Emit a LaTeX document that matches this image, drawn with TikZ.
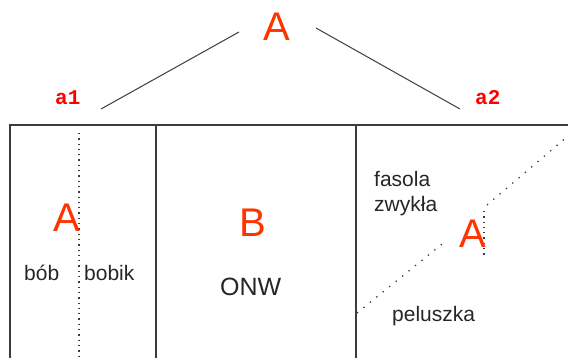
\documentclass[tikz,border=0pt]{standalone}
\usepackage{fontspec}
\setmainfont{Liberation Sans}
\newfontfamily\labfont{Liberation Mono}
\definecolor{bigred}{RGB}{255,51,0}
\definecolor{lblred}{RGB}{255,0,0}
\definecolor{linegray}{RGB}{60,60,60}
\begin{document}
\begin{tikzpicture}[x=1pt,y=-1pt,
  big/.style={anchor=base west,inner sep=0pt,text=bigred,font=\fontsize{40}{40}\selectfont},
  small/.style={anchor=base west,inner sep=0pt,text=black!85,font=\fontsize{21}{25}\selectfont},
  lbl/.style={anchor=base west,inner sep=0pt,text=lblred,font=\labfont\bfseries\fontsize{21}{21}\selectfont},
  frame/.style={draw=linegray,line width=1.3pt},
  branch/.style={draw=linegray,line width=1pt},
  dotline/.style={draw=linegray,line width=1.3pt,dash pattern=on 1.3pt off 4pt},
  dotdiag/.style={draw=linegray,line width=1.3pt,dash pattern=on 1.3pt off 7pt}]
\useasboundingbox (0,0) rectangle (568,358);
% frame
\coordinate (tl) at (10,125);
\coordinate (tr) at (568,125);
\coordinate (bl) at (10,360);
\coordinate (d1t) at (156,125);
\coordinate (d1b) at (156,360);
\coordinate (d2t) at (356,125);
\coordinate (d2b) at (356,360);
\draw[frame] (bl) -- (tl) -- (tr);
\draw[frame] (d1t) -- (d1b);
\draw[frame] (d2t) -- (d2b);
% dotted lines
\coordinate (v1t) at (79,133);
\coordinate (v1b) at (79,360);
\draw[dotline] (v1t) -- (v1b);
\coordinate (g1a) at (357,313);
\coordinate (g1b) at (447,240);
\coordinate (g2a) at (487,205);
\coordinate (g2b) at (568,136);
\draw[dotdiag] (g1a) -- (g1b);
\draw[dotdiag] (g2a) -- (g2b);
\coordinate (v2t) at (484,211);
\coordinate (v2b) at (484,258);
\draw[dotline] (v2t) -- (v2b);
% top
\node[big] (topA) at (263,41) {A};
\node[lbl] (a1) at (55,105) {a1};
\node[lbl] (a2) at (475,105) {a2};
\coordinate (l1) at (101,109);
\coordinate (l2) at (239,32);
\coordinate (r1) at (316,28);
\coordinate (r2) at (460,109);
\draw[branch] (l1) -- (l2);
\draw[branch] (r1) -- (r2);
% column 1
\node[big] (A1) at (53,232) {A};
\node[small] (bob) at (24,281) {bób};
\node[small] (bobik) at (84,281) {bobik};
% column 2
\node[big] (B) at (239,237) {B};
\node[small,font=\fontsize{25}{25}\selectfont] (onw) at (220,296) {ONW};
% column 3
\node[small] (fas) at (374,187) {fasola};
\node[small] (zw) at (374,212) {zwykła};
\node[big] (A2) at (459,248) {A};
\node[small] (pel) at (392,321) {peluszka};
\end{tikzpicture}
\end{document}
